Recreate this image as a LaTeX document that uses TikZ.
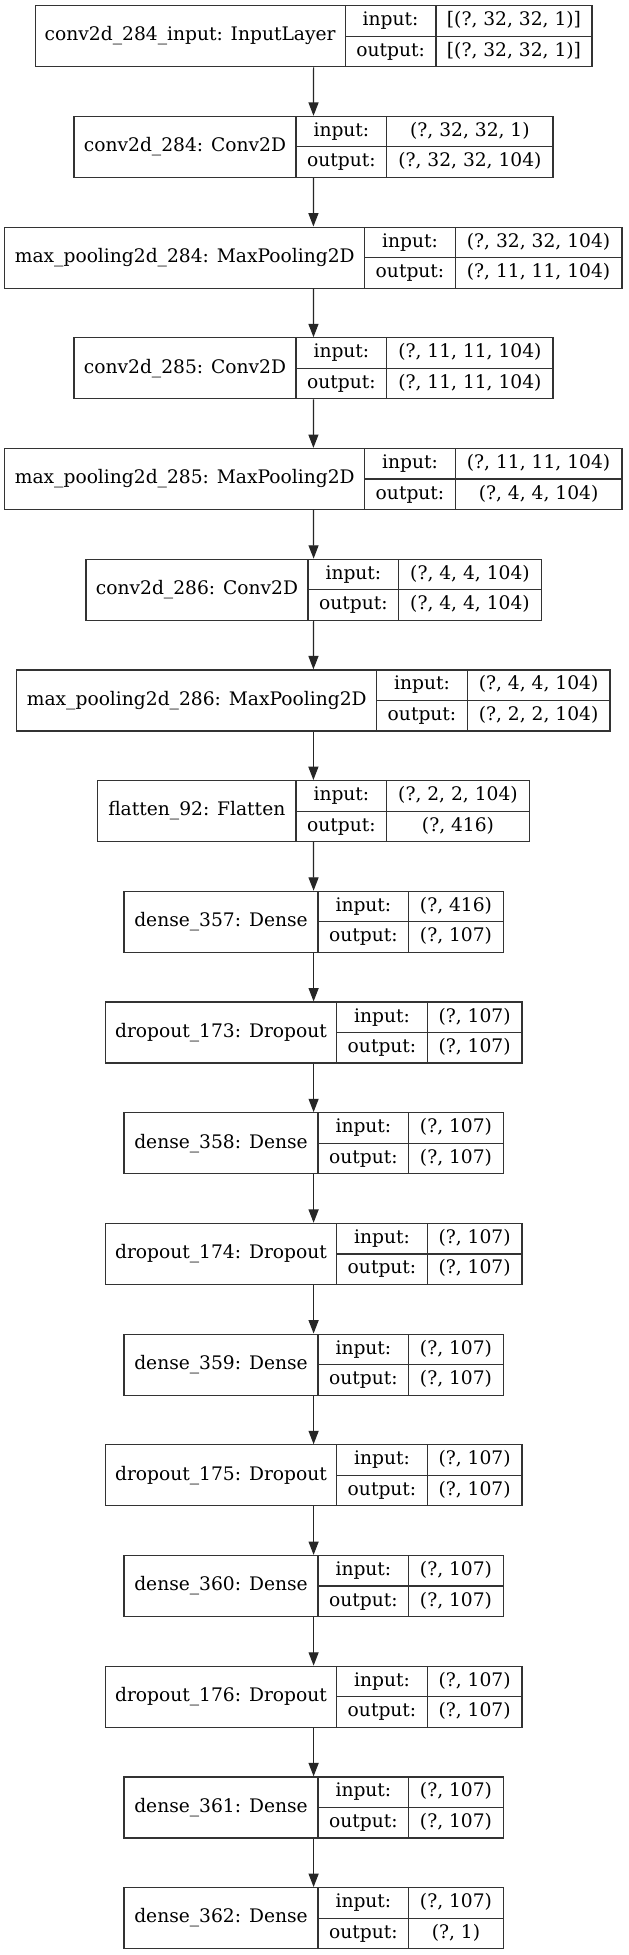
\documentclass[tikz,border=0pt]{standalone}
\usepackage{fontspec}
\setmainfont{DejaVu Serif}
\usepackage{tikz}
\usetikzlibrary{arrows.meta}
\usetikzlibrary{positioning}

\tikzset{
  layer/.style={rectangle, draw=black!80, line width=0.9pt, minimum height=45.75pt, inner sep=0pt},
  split/.style={draw=black!80, line width=0.9pt},
  cell/.style={inner sep=0pt, text height=10.2pt, text depth=3pt, font=\fontsize{14pt}{16pt}\selectfont},
  flow/.style={-{Triangle[length=10pt,width=7.5pt]}, draw=black!85, fill=black!85, line width=0.9pt}
}

% #1 name, #2 top, #3..#6 x of left edge / splits / right edge, #7 layer, #8 input, #9 output
\newcommand{\layerbox}[9]{
  \node [layer, minimum width={(#6-#3)*0.75pt}] (#1) at ({(#3+#6)/2}, #2+30.5) {};
  \draw [split] (#4, #2) -- (#4, #2+61);
  \draw [split] (#5, #2) -- (#5, #2+61);
  \draw [split] (#4, #2+30.5) -- (#6, #2+30.5);
  \node [cell] (#1-name) at ({(#3+#4)/2}, #2+30.5) {#7};
  \node [cell] (#1-inkey) at ({(#4+#5)/2}, #2+15.25) {input:};
  \node [cell] (#1-outkey) at ({(#4+#5)/2}, #2+45.75) {output:};
  \node [cell] (#1-inval) at ({(#5+#6)/2}, #2+15.25) {#8};
  \node [cell] (#1-outval) at ({(#5+#6)/2}, #2+45.75) {#9};
}

\begin{document}
\begin{tikzpicture}[x=0.75pt, y=-0.75pt]
 \path [fill=white] (0, 0) rectangle (628, 1955);
 \useasboundingbox (0, 0) rectangle (628, 1955);

 \layerbox{inp}{5.7}{35.2}{345.2}{436}{592}{conv2d\_284\_input: InputLayer}{[(?, 32, 32, 1)]}{[(?, 32, 32, 1)]}
 \layerbox{conv284}{116.4}{74}{296}{386.8}{553}{conv2d\_284: Conv2D}{(?, 32, 32, 1)}{(?, 32, 32, 104)}
 \layerbox{pool284}{227.1}{4.8}{364.8}{455.2}{622}{max\_pooling2d\_284: MaxPooling2D}{(?, 32, 32, 104)}{(?, 11, 11, 104)}
 \layerbox{conv285}{337.8}{74}{296}{386.8}{553}{conv2d\_285: Conv2D}{(?, 11, 11, 104)}{(?, 11, 11, 104)}
 \layerbox{pool285}{448.5}{4.8}{364.8}{455.2}{622}{max\_pooling2d\_285: MaxPooling2D}{(?, 11, 11, 104)}{(?, 4, 4, 104)}
 \layerbox{conv286}{559.2}{86}{308}{398.8}{541.2}{conv2d\_286: Conv2D}{(?, 4, 4, 104)}{(?, 4, 4, 104)}
 \layerbox{pool286}{669.9}{16.8}{376.8}{467.2}{610}{max\_pooling2d\_286: MaxPooling2D}{(?, 4, 4, 104)}{(?, 2, 2, 104)}
 \layerbox{flat92}{780.6}{97.6}{296}{386.8}{529.2}{flatten\_92: Flatten}{(?, 2, 2, 104)}{(?, 416)}
 \layerbox{dense357}{891.3}{124}{318}{408.8}{503.2}{dense\_357: Dense}{(?, 416)}{(?, 107)}
 \layerbox{drop173}{1002}{105.2}{336.8}{427.2}{522}{dropout\_173: Dropout}{(?, 107)}{(?, 107)}
 \layerbox{dense358}{1112.7}{124}{318}{408.8}{503.2}{dense\_358: Dense}{(?, 107)}{(?, 107)}
 \layerbox{drop174}{1223.4}{105.2}{336.8}{427.2}{522}{dropout\_174: Dropout}{(?, 107)}{(?, 107)}
 \layerbox{dense359}{1334.1}{124}{318}{408.8}{503.2}{dense\_359: Dense}{(?, 107)}{(?, 107)}
 \layerbox{drop175}{1444.8}{105.2}{336.8}{427.2}{522}{dropout\_175: Dropout}{(?, 107)}{(?, 107)}
 \layerbox{dense360}{1555.5}{124}{318}{408.8}{503.2}{dense\_360: Dense}{(?, 107)}{(?, 107)}
 \layerbox{drop176}{1666.2}{105.2}{336.8}{427.2}{522}{dropout\_176: Dropout}{(?, 107)}{(?, 107)}
 \layerbox{dense361}{1776.9}{124}{318}{408.8}{503.2}{dense\_361: Dense}{(?, 107)}{(?, 107)}
 \layerbox{dense362}{1887.6}{124}{318}{408.8}{503.2}{dense\_362: Dense}{(?, 107)}{(?, 1)}

 \draw [flow] (inp.south) -- (conv284.north);
 \draw [flow] (conv284.south) -- (pool284.north);
 \draw [flow] (pool284.south) -- (conv285.north);
 \draw [flow] (conv285.south) -- (pool285.north);
 \draw [flow] (pool285.south) -- (conv286.north);
 \draw [flow] (conv286.south) -- (pool286.north);
 \draw [flow] (pool286.south) -- (flat92.north);
 \draw [flow] (flat92.south) -- (dense357.north);
 \draw [flow] (dense357.south) -- (drop173.north);
 \draw [flow] (drop173.south) -- (dense358.north);
 \draw [flow] (dense358.south) -- (drop174.north);
 \draw [flow] (drop174.south) -- (dense359.north);
 \draw [flow] (dense359.south) -- (drop175.north);
 \draw [flow] (drop175.south) -- (dense360.north);
 \draw [flow] (dense360.south) -- (drop176.north);
 \draw [flow] (drop176.south) -- (dense361.north);
 \draw [flow] (dense361.south) -- (dense362.north);
\end{tikzpicture}
\end{document}
